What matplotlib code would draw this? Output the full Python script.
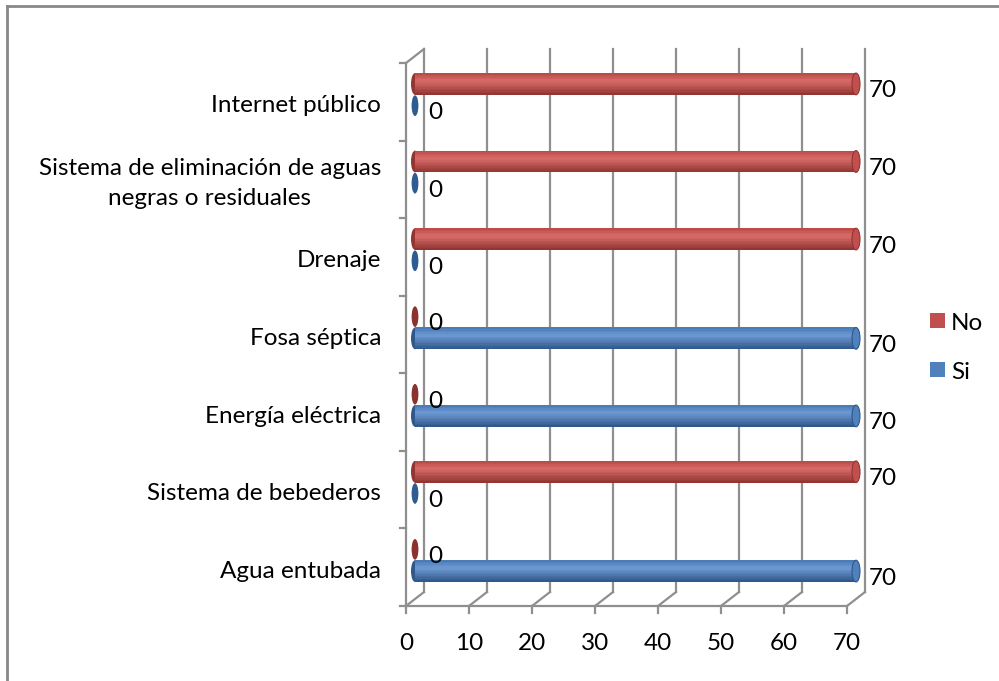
import matplotlib
matplotlib.use("Agg")
import matplotlib.pyplot as plt
import matplotlib.transforms as mtransforms
from matplotlib.patches import Ellipse, Rectangle
from matplotlib.lines import Line2D
import numpy as np

plt.rcParams['font.family'] = ['Lato', 'DejaVu Sans']

categories = ["Agua entubada", "Sistema de bebederos", "Energía eléctrica",
              "Fosa séptica", "Drenaje",
              "Sistema de eliminación de aguas\nnegras o residuales",
              "Internet público"]
si_values = [70, 0, 70, 70, 0, 0, 0]
no_values = [0, 70, 0, 0, 70, 70, 70]
x_ticks = [0, 10, 20, 30, 40, 50, 60, 70]
series_names = ["No", "Si"]

FS = 17.5

W, H = 999, 681
fig = plt.figure(figsize=(W / 100, H / 100), dpi=100)
fig.patch.set_facecolor("white")

def fx(px):
    return px / W

def fy(py):
    return 1 - py / H

# front plane box (pixels)
L, R, T, B = 406, 847, 63, 606
ax = fig.add_axes([fx(L), fy(B), fx(R) - fx(L), fy(T) - fy(B)])
ax.set_xlim(0, 70)
ax.set_ylim(0, 7)
ax.axis("off")

DX, DY = 18, 14
back = mtransforms.offset_copy(ax.transData, fig=fig, x=DX, y=DY, units='dots')
mid = mtransforms.offset_copy(ax.transData, fig=fig, x=DX / 2, y=DY / 2, units='dots')
lab = mtransforms.offset_copy(ax.transData, fig=fig, x=22, y=DY / 2 - 7, units='dots')

gc = "#8f8f8f"
lw = 1.6
# back wall gridlines
for v in x_ticks:
    ax.add_line(Line2D([v, v], [0, 7], color=gc, lw=lw, transform=back, clip_on=False, zorder=1))
# floor diagonals
dxu = DX / (R - L) * 70
dyu = DY / (B - T) * 7
for v in x_ticks:
    ax.add_line(Line2D([v, v + dxu], [0, dyu], color=gc, lw=lw, transform=ax.transData, clip_on=False, zorder=1))
    ax.add_line(Line2D([v, v], [0, -7 / (B - T) * 7], color=gc, lw=lw, transform=ax.transData, clip_on=False, zorder=1))
# top-left diagonal
ax.add_line(Line2D([0, dxu], [7, 7 + dyu], color=gc, lw=lw, clip_on=False, zorder=1))
# front axes lines
ax.add_line(Line2D([0, 70], [0, 0], color=gc, lw=lw, clip_on=False, zorder=1))
ax.add_line(Line2D([0, 0], [0, 7], color=gc, lw=lw, clip_on=False, zorder=1))
tick_u = 6 / (R - L) * 70
for i in range(8):
    ax.add_line(Line2D([-tick_u, 0], [i, i], color=gc, lw=lw, clip_on=False, zorder=1))

# tick labels
for v in x_ticks:
    ax.text(v, -37 / (B - T) * 7, str(v), ha="center", va="center", fontsize=FS, color="black")

# category labels
for i, c in enumerate(categories):
    ax.text(-25 / (R - L) * 70, i + 0.5 - 4 / (B - T) * 7, c, ha="right", va="center",
            fontsize=FS, color="black", linespacing=1.5, multialignment="center")

bar_h = 0.28
cap_w = 8 / (R - L) * 70

def shade(c_top, c_hi, c_bot, n=14):
    c_top, c_hi, c_bot = [np.array(matplotlib.colors.to_rgb(c)) for c in (c_top, c_hi, c_bot)]
    cols = []
    for k in range(n):
        t = k / (n - 1)  # 0 = bottom, 1 = top
        if t > 0.65:
            s = (t - 0.65) / 0.35
            cols.append(c_hi * (1 - s) + c_top * s)
        else:
            s = t / 0.65
            cols.append(c_bot * (1 - s) + c_hi * s)
    return cols

red = dict(top="#BD4B48", hi="#D86C69", bot="#933532", cap="#C0504D", zero="#8A3230")
blue = dict(top="#4A7CB8", hi="#6E9AD3", bot="#30588C", cap="#4F81BD", zero="#2E5B90")

def draw_series(values, yoff, pal):
    n = 14
    cols = shade(pal["top"], pal["hi"], pal["bot"], n)
    for i, v in enumerate(values):
        yc = i + yoff
        if v > 0:
            ax.add_patch(Ellipse((0, yc), cap_w, bar_h, facecolor=pal["bot"], edgecolor="none",
                                 transform=mid, zorder=2, clip_on=False))
            for k in range(n):
                y0 = yc - bar_h / 2 + k * bar_h / n
                ax.barh(y0 + bar_h / (2 * n), v, height=bar_h / n * 1.05, left=0, color=cols[k],
                        edgecolor="none", transform=mid, zorder=3, clip_on=False)
            ax.add_patch(Ellipse((v, yc), cap_w, bar_h, facecolor=pal["cap"], edgecolor=pal["bot"],
                                 lw=0.8, transform=mid, zorder=4, clip_on=False))
        else:
            ax.add_patch(Ellipse((0, yc), cap_w * 0.85, bar_h * 0.95, facecolor=pal["zero"],
                                 edgecolor="none", transform=mid, zorder=4, clip_on=False))
        ax.text(v, yc, str(v), ha="left", va="center", fontsize=FS, color="black",
                transform=lab, zorder=5, clip_on=False)

draw_series(no_values, 0.64, red)
draw_series(si_values, 0.36, blue)

# legend
for name, py, col in [(series_names[0], 320.5, red["cap"]), (series_names[1], 369.5, blue["cap"])]:
    fig.patches.append(Rectangle((fx(930), fy(py + 7.5)), fx(15), 15 / H, transform=fig.transFigure,
                                 facecolor=col, edgecolor="none"))
    fig.text(fx(951), fy(py + 3), name, ha="left", va="center", fontsize=FS, color="black")

# outer border
fig.add_artist(Line2D([fx(7), fx(7)], [0, fy(6)], color="#888888", lw=2, transform=fig.transFigure))
fig.add_artist(Line2D([fx(7), 1], [fy(6), fy(6)], color="#888888", lw=2, transform=fig.transFigure))

fig.savefig("out.png", dpi=100, facecolor="white")
